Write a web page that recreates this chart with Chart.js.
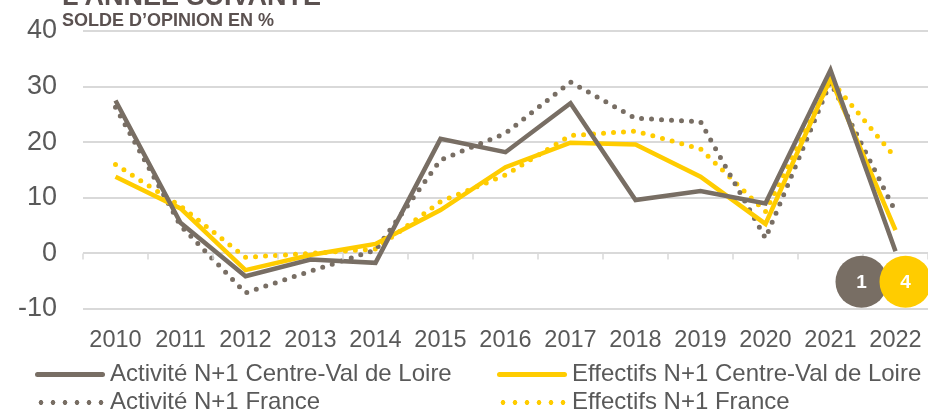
<!DOCTYPE html>
<html>
<head>
<meta charset="utf-8">
<script src="https://cdn.jsdelivr.net/npm/chart.js@4"></script>
<style>
  body { margin: 0; background: #fff; font-family: "Liberation Sans", Arial, sans-serif; }
  #wrap { position: relative; width: 928px; height: 411px; overflow: hidden; }
  #top { position: absolute; left: 62px; top: -19px; font-size: 27px; font-weight: bold; color: #5b5150; white-space: nowrap; }
  #sub { position: absolute; left: 62px; top: 10px; font-size: 18px; font-weight: bold; color: #5b5150; white-space: nowrap; }
  .leg { position: absolute; font-size: 24px; color: #595959; white-space: nowrap; line-height: 24px; }
  .leg span.s { display: inline-block; vertical-align: middle; width: 70px; margin-right: 5px; }
</style>
</head>
<body>
<div id="wrap">
  <canvas id="myChart" width="928" height="411"></canvas>
  <div id="top">L’ANNÉE SUIVANTE</div>
  <div id="sub">SOLDE D’OPINION EN %</div>
  <div id="legend"></div>
</div>
<script>
const years = ['2010', '2011', '2012', '2013', '2014', '2015', '2016', '2017', '2018', '2019', '2020', '2021', '2022'];
const activiteCVL = [27.5, 5.5, -4.1, -1.1, -1.7, 20.6, 18.2, 27.0, 9.6, 11.2, 9.0, 33.0, 0.4];
const effectifsCVL = [13.8, 8.1, -3.0, -0.3, 1.7, 7.8, 15.5, 19.9, 19.6, 13.8, 5.3, 31.5, 4.2];
const activiteFrance = [26.3, 5.0, -7.1, -3.2, 0.6, 16.8, 21.6, 30.8, 24.3, 23.7, 2.7, 30.8, 7.5];
const effectifsFrance = [16.0, 8.5, -0.7, 0.0, 0.8, 9.3, 14.1, 21.2, 22.0, 18.8, 7.5, 31.2, 17.2];
const yTicks = [-10, 0, 10, 20, 30, 40];
const badges = ['1', '4'];

const GREY = '#786e64';
const YELLOW = '#ffcc00';

// legend built from the datasets
const legendItems = [
    { label: 'Activité N+1 Centre-Val de Loire', color: GREY, dotted: false, left: 35, top: 361 },
    { label: 'Effectifs N+1 Centre-Val de Loire', color: YELLOW, dotted: false, left: 497, top: 361 },
    { label: 'Activité N+1 France', color: GREY, dotted: true, left: 35, top: 389 },
    { label: 'Effectifs N+1 France', color: YELLOW, dotted: true, left: 497, top: 389 }
];
const legendEl = document.getElementById('legend');
legendItems.forEach(function (it) {
    var d = document.createElement('div');
    d.className = 'leg';
    d.style.left = it.left + 'px';
    d.style.top = it.top + 'px';
    var s = document.createElement('span');
    s.className = 's';
    s.style.height = '5px';
    if (it.dotted) {
        s.style.backgroundImage = 'radial-gradient(circle, ' + it.color + ' 2.3px, transparent 2.6px)';
        s.style.backgroundSize = '12px 5px';
    } else {
        s.style.borderRadius = '3px';
        s.style.background = it.color;
    }
    d.appendChild(s);
    d.appendChild(document.createTextNode(it.label));
    legendEl.appendChild(d);
});

const extras = {
    id: 'extras',
    afterDraw(chart) {
        const ctx = chart.ctx;
        const x = chart.scales.x, y = chart.scales.y;
        const y0 = y.getPixelForValue(0);
        // small tick marks on the zero line, between categories
        ctx.save();
        ctx.strokeStyle = '#d9d9d9';
        ctx.lineWidth = 1.5;
        const w = (x.getPixelForValue(1) - x.getPixelForValue(0));
        for (let i = 0; i <= years.length; i++) {
            const px = x.getPixelForValue(0) - w / 2 + i * w;
            ctx.beginPath();
            ctx.moveTo(px, y0);
            ctx.lineTo(px, y0 + 6);
            ctx.stroke();
        }
        // badges under the last year
        const last = x.getPixelForValue(years.length - 1);
        const by = y.getPixelForValue(-5.1);
        const cols = [GREY, YELLOW];
        const offs = [-34, 10];
        for (let i = 0; i < 2; i++) {
            ctx.beginPath();
            ctx.arc(last + offs[i], by, 26, 0, Math.PI * 2);
            ctx.fillStyle = cols[i];
            ctx.fill();
            ctx.fillStyle = '#fff';
            ctx.font = 'bold 19px "Liberation Sans", Arial';
            ctx.textAlign = 'center';
            ctx.textBaseline = 'middle';
            ctx.fillText(badges[i], last + offs[i], by + 1);
        }
        ctx.restore();
    }
};

function myLoadFunction() {
    const ctx = document.getElementById('myChart').getContext('2d');
    var myChartConfig = {
        type: 'line',
        data: {
            labels: years,
            datasets: [
            {
                label: 'Activité N+1 Centre-Val de Loire',
                data: activiteCVL,
                borderColor: GREY,
                borderWidth: 4.5,
                borderJoinStyle: 'miter'
            },
            {
                label: 'Effectifs N+1 Centre-Val de Loire',
                data: effectifsCVL,
                borderColor: YELLOW,
                borderWidth: 4.5,
                borderJoinStyle: 'miter'
            },
            {
                label: 'Activité N+1 France',
                data: activiteFrance,
                borderColor: GREY,
                borderWidth: 5,
                borderDash: [0, 10],
                borderCapStyle: 'round'
            },
            {
                label: 'Effectifs N+1 France',
                data: effectifsFrance,
                borderColor: YELLOW,
                borderWidth: 5,
                borderDash: [0, 10],
                borderCapStyle: 'round'
            }
        ]
        },
        options: {
            responsive: false,
            animation: false,
            elements: { point: { radius: 0 }, line: { tension: 0 } },
            layout: { padding: { top: 31, right: 0, bottom: 51, left: 0 } },
            plugins: { legend: { display: false }, tooltip: { enabled: false } },
            scales: {
                x: {
                    offset: true,
                    grid: { display: false, drawTicks: false },
                    border: { display: false },
                    ticks: { color: '#595959', font: { size: 23.5, family: '"Liberation Sans", Arial' }, padding: 17, maxRotation: 0, autoSkip: false },
                    afterFit: function (s) { s.height = 51; s.paddingLeft = 0; s.paddingRight = 0; }
                },
                y: {
                    min: -10,
                    max: 40,
                    afterBuildTicks: function (s) { s.ticks = yTicks.map(function (v) { return { value: v }; }); },
                    grid: { color: '#d9d9d9', lineWidth: 2, drawTicks: false },
                    border: { display: false },
                    ticks: { color: '#595959', font: { size: 27, family: '"Liberation Sans", Arial' }, padding: 26 },
                    afterFit: function (s) { s.width = 83; s.paddingTop = 0; s.paddingBottom = 0; }
                }
            }
        },
        plugins: [extras]
    };
    const myChart = new Chart(ctx, myChartConfig);
}

document.addEventListener('DOMContentLoaded', myLoadFunction);
</script>
</body>
</html>
